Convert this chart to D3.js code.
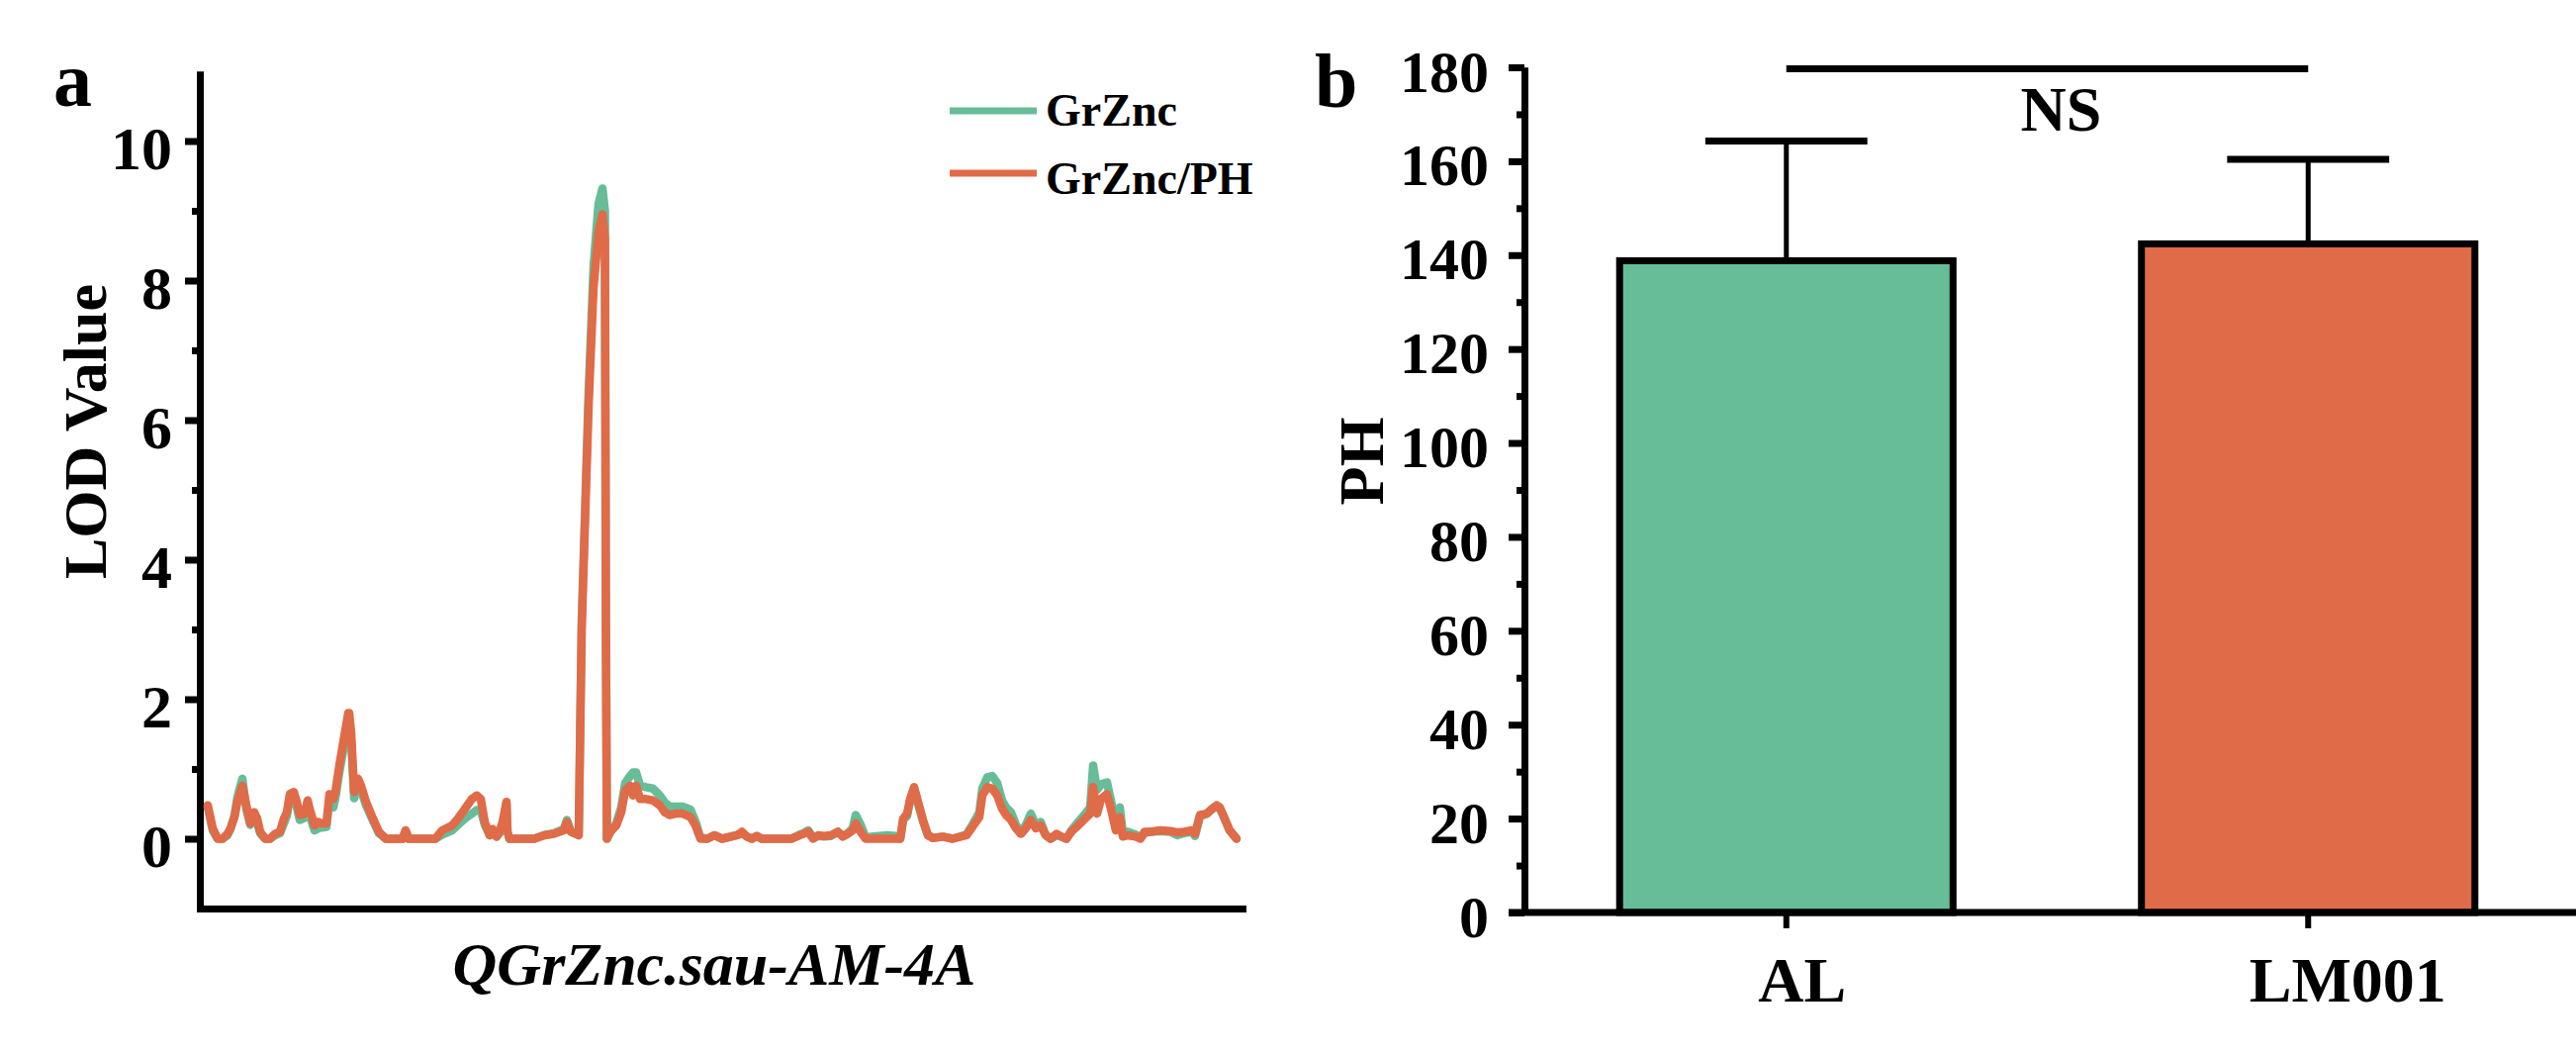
<!DOCTYPE html>
<html>
<head>
<meta charset="utf-8">
<script src="https://cdn.jsdelivr.net/npm/d3@7"></script>
<style>
    body { margin: 0; background: #fff; }
    svg text { font-family: "Times New Roman", "Liberation Serif", serif; font-weight: bold; fill: #000; }
</style>
</head>
<body>
<svg id="fig"></svg>
<script>
// ---- panel a : LOD profile along the QTL interval (position in cM) ----
const qtlPos = [0.8,1.3,1.8,2.3,2.8,3.1,3.5,3.8,4.3,4.7,5.1,5.5,5.8,6.1,6.6,7.1,7.6,8.1,8.5,8.8,
    9.1,9.5,9.8,10.1,10.6,10.9,11.1,11.4,11.6,12.0,12.3,12.8,13.1,13.5,13.7,14.1,14.6,15.0,15.1,15.3,
    15.6,16.0,16.3,16.8,17.5,18.1,18.8,20.5,20.8,21.1,23.8,24.5,25.5,26.1,26.8,27.5,28.0,28.4,28.8,29.3,
    29.6,30.0,30.3,30.6,31.0,31.1,31.3,33.8,34.8,35.8,36.8,37.1,37.5,38.3,38.6,39.3,39.8,40.3,40.7,40.95,
    41.05,41.15,41.5,42.1,42.6,43.0,43.5,43.8,44.1,44.5,45.1,45.8,46.5,47.0,47.5,48.1,48.8,49.6,50.1,50.6,
    51.3,52.0,52.8,54.3,54.8,55.3,55.8,56.3,56.8,59.8,60.5,61.0,61.5,62.0,62.5,63.1,63.8,64.5,65.0,65.5,
    66.0,66.3,66.8,67.3,69.5,70.3,70.8,71.1,71.5,71.8,72.2,72.6,73.1,73.6,74.1,75.1,76.1,77.5,78.1,78.8,
    79.1,79.6,80.1,80.6,81.1,81.5,82.0,82.5,83.0,83.5,84.0,84.5,85.0,85.5,86.0,86.6,87.1,87.6,88.1,88.8,
    89.5,90.0,90.3,90.7,91.1,91.7,92.1,92.6,93.0,93.3,93.8,94.6,95.1,95.5,96.1,97.1,98.1,98.8,99.5,100.3,
    100.6,101.1,101.8,102.3,102.8,103.1,103.6,104.1,104.8];

const lodGrZnc = [0.45,0.12,0,0,0.05,0.14,0.33,0.6,0.86,0.42,0.2,0.33,0.22,0.08,0,0,0.05,0.08,0.22,0.33,
    0.6,0.62,0.45,0.27,0.3,0.5,0.36,0.2,0.12,0.15,0.16,0.17,0.55,0.45,0.58,0.95,1.35,1.68,1.7,1.4,
    0.58,0.78,0.7,0.48,0.26,0.08,0,0,0.12,0,0,0.06,0.12,0.2,0.29,0.36,0.41,0.41,0.2,0.05,
    0.12,0.03,0.08,0.2,0.5,0.1,0,0,0.05,0.08,0.14,0.27,0.1,0.05,3.1,6.4,8.2,9.1,9.32,9.0,
    3.1,0,0.1,0.22,0.45,0.8,0.9,0.95,0.95,0.76,0.74,0.72,0.62,0.52,0.46,0.46,0.46,0.42,0.25,0.02,
    0,0.05,0,0.05,0.08,0.03,0,0.04,0,0,0.05,0.08,0.12,0.02,0.04,0.03,0.04,0.1,0.04,0.08,
    0.15,0.34,0.2,0.02,0.05,0.04,0,0.27,0.33,0.55,0.72,0.5,0.25,0.05,0.01,0.03,0,0.06,0.2,0.38,
    0.72,0.88,0.9,0.8,0.55,0.45,0.38,0.2,0.08,0.2,0.36,0.2,0.24,0.06,0,0.05,0.03,0,0.12,0.24,
    0.36,0.45,1.05,0.7,0.78,0.81,0.55,0.2,0.45,0.08,0.1,0.06,0.02,0.08,0.1,0.11,0.1,0.05,0.08,0.1,
    0.04,0.32,0.36,0.42,0.46,0.44,0.28,0.12,0];

const lodGrZncPH = [0.48,0.15,0,0,0.07,0.15,0.31,0.53,0.76,0.48,0.22,0.38,0.29,0.1,0,0,0.07,0.1,0.29,0.38,
    0.64,0.67,0.53,0.34,0.36,0.55,0.43,0.29,0.19,0.24,0.22,0.22,0.64,0.57,0.67,1.05,1.47,1.8,1.8,1.52,
    0.67,0.86,0.76,0.53,0.29,0.1,0,0,0.12,0,0,0.12,0.19,0.29,0.43,0.57,0.62,0.57,0.24,0.05,
    0.14,0.03,0.1,0.24,0.53,0.1,0,0,0.05,0.07,0.12,0.24,0.1,0.05,3.0,6.2,7.9,8.7,8.95,8.6,
    3.0,0,0.1,0.19,0.38,0.69,0.76,0.62,0.76,0.57,0.57,0.55,0.48,0.38,0.34,0.36,0.36,0.31,0.19,0,
    0,0.05,0,0.05,0.1,0.03,0,0.04,0,0,0.04,0.07,0.1,0,0.05,0.04,0.05,0.1,0.03,0.07,
    0.12,0.22,0.1,0,0,0,0,0.29,0.36,0.57,0.74,0.53,0.27,0.05,0.01,0.03,0,0.05,0.17,0.31,
    0.62,0.74,0.72,0.62,0.43,0.34,0.27,0.15,0.07,0.15,0.27,0.15,0.19,0.05,0,0.07,0.03,0,0.1,0.19,
    0.29,0.36,0.74,0.36,0.57,0.64,0.43,0.12,0.31,0.03,0.05,0.03,0,0.1,0.1,0.12,0.11,0.09,0.1,0.12,
    0.07,0.34,0.36,0.43,0.48,0.45,0.29,0.12,0];

const seriesNames = ['GrZnc', 'GrZnc/PH'];
const lodTicks = [0, 2, 4, 6, 8, 10];
const lodMinorTicks = [1, 3, 5, 7, 9];

// ---- panel b : plant height of the two parents ----
const phGroups = ['AL', 'LM001'];
const phMean = [138.8, 142.4];
const phSD = [25.5, 18.0];
const phTicks = [0, 20, 40, 60, 80, 100, 120, 140, 160, 180];
const phMinorTicks = [10, 30, 50, 70, 90, 110, 130, 150, 170];

const GREEN = '#66bd98';
const ORANGE = '#e06b48';

const svg = d3.select('#fig')
    .attr('width', 2604)
    .attr('height', 1065);

function styleAxis(g, fontSize, dy) {
    g.select('.domain').attr('stroke', '#000').attr('stroke-width', 7);
    g.selectAll('.tick line').attr('stroke', '#000').attr('stroke-width', 7);
    g.selectAll('.tick text')
        .style('font-size', fontSize + 'px')
        .attr('dy', dy);
}

// ================= panel a =================
const pa = {left: 202, right: 1256, top: 72, bottom: 918};

const xa = d3.scaleLinear()
    .domain([0, 105.4])
    .range([pa.left, pa.right]);

const ya = d3.scaleLinear()
    .domain([-1, 11])
    .range([pa.bottom, pa.top]);

const ga = svg.append('g');

ga.append('g')
    .attr('transform', `translate(${pa.left}, 0)`)
    .call(d3.axisLeft(ya).tickValues(lodMinorTicks).tickSize(8).tickSizeOuter(0).tickFormat(''))
    .call(g => styleAxis(g, 10, 0));

ga.append('g')
    .attr('transform', `translate(${pa.left}, 0)`)
    .call(d3.axisLeft(ya).tickValues(lodTicks).tickSize(15).tickPadding(13).tickSizeOuter(0))
    .call(g => styleAxis(g, 62, '0.45em'));

ga.append('g')
    .attr('transform', `translate(0, ${pa.bottom})`)
    .call(d3.axisBottom(xa).tickValues([]).tickSizeOuter(0))
    .call(g => styleAxis(g, 10, 0))
    .select('.domain').attr('stroke-linecap', 'square');

const lodLine = d3.line()
    .x((d, i) => xa(qtlPos[i]))
    .y(d => ya(d));

ga.selectAll('path.lod')
    .data([lodGrZnc, lodGrZncPH])
    .enter()
    .append('path')
    .attr('class', 'lod')
    .attr('d', lodLine)
    .attr('fill', 'none')
    .attr('stroke', (d, i) => i === 0 ? GREEN : ORANGE)
    .attr('stroke-width', 8.5)
    .attr('stroke-linejoin', 'round')
    .attr('stroke-linecap', 'round');

// legend
const legend = ga.append('g').attr('transform', 'translate(960, 112)');
seriesNames.forEach((name, i) => {
    legend.append('line')
        .attr('x1', 0).attr('x2', 88)
        .attr('y1', i * 63).attr('y2', i * 63)
        .attr('stroke', i === 0 ? GREEN : ORANGE)
        .attr('stroke-width', 7);
    legend.append('text')
        .attr('x', 97)
        .attr('y', i * 63 + 15 + i * 6)
        .style('font-size', '46px')
        .text(name);
});

ga.append('text')
    .attr('transform', `translate(107, 436) rotate(-90)`)
    .attr('text-anchor', 'middle')
    .style('font-size', '62px')
    .text('LOD Value');

ga.append('text')
    .attr('x', (pa.left + pa.right) / 2 - 7)
    .attr('y', 995)
    .attr('text-anchor', 'middle')
    .style('font-size', '62px')
    .style('font-style', 'italic')
    .text('QGrZnc.sau-AM-4A');

ga.append('text')
    .attr('x', 54).attr('y', 107)
    .style('font-size', '78px')
    .text('a');

// ================= panel b =================
const pb = {left: 1541, right: 2597, top: 68, bottom: 922};

const xb = d3.scaleBand()
    .domain(phGroups)
    .range([pb.left + 1, pb.right])
    .paddingInner(0.361)
    .paddingOuter(0.1805);

const yb = d3.scaleLinear()
    .domain([0, 180])
    .range([pb.bottom, pb.top]);

const gb = svg.append('g');
const bw = xb.bandwidth();

gb.selectAll('rect.bar')
    .data(phGroups)
    .enter()
    .append('rect')
    .attr('class', 'bar')
    .attr('x', d => xb(d))
    .attr('y', (d, i) => yb(phMean[i]))
    .attr('width', bw)
    .attr('height', (d, i) => yb(0) - yb(phMean[i]))
    .attr('fill', (d, i) => i === 0 ? GREEN : ORANGE)
    .attr('stroke', '#000')
    .attr('stroke-width', 7);

// error bars (upper whisker only)
gb.selectAll('line.err')
    .data(phGroups)
    .enter()
    .append('line')
    .attr('class', 'err')
    .attr('x1', d => xb(d) + bw / 2)
    .attr('x2', d => xb(d) + bw / 2)
    .attr('y1', (d, i) => yb(phMean[i]) - 3)
    .attr('y2', (d, i) => yb(phMean[i] + phSD[i]))
    .attr('stroke', '#000')
    .attr('stroke-width', 5);

gb.selectAll('line.cap')
    .data(phGroups)
    .enter()
    .append('line')
    .attr('class', 'cap')
    .attr('x1', d => xb(d) + bw / 2 - bw * 0.243)
    .attr('x2', d => xb(d) + bw / 2 + bw * 0.243)
    .attr('y1', (d, i) => yb(phMean[i] + phSD[i]))
    .attr('y2', (d, i) => yb(phMean[i] + phSD[i]))
    .attr('stroke', '#000')
    .attr('stroke-width', 7);

gb.append('g')
    .attr('transform', `translate(${pb.left}, 0)`)
    .call(d3.axisLeft(yb).tickValues(phMinorTicks).tickSize(8).tickSizeOuter(0).tickFormat(''))
    .call(g => styleAxis(g, 10, 0));

gb.append('g')
    .attr('transform', `translate(${pb.left}, 0)`)
    .call(d3.axisLeft(yb).tickValues(phTicks).tickSize(16).tickPadding(20).tickSizeOuter(0))
    .call(g => styleAxis(g, 60, '0.4em'));

// x axis
const labelShift = [16, 40];
gb.append('g')
    .attr('transform', `translate(0, ${pb.bottom})`)
    .call(d3.axisBottom(xb).tickSize(16).tickPadding(29).tickSizeOuter(0))
    .call(g => {
        g.select('.domain').remove();
        g.selectAll('.tick line').attr('stroke', '#000').attr('stroke-width', 6);
        g.selectAll('.tick text')
            .style('font-size', '64px')
            .attr('dx', (d, i) => labelShift[i]);
    });

gb.append('line')
    .attr('x1', pb.left - 16).attr('x2', 2604)
    .attr('y1', pb.bottom).attr('y2', pb.bottom)
    .attr('stroke', '#000')
    .attr('stroke-width', 7);

// significance bracket
const c1 = xb(phGroups[0]) + bw / 2;
const c2 = xb(phGroups[1]) + bw / 2;
gb.append('line')
    .attr('x1', c1).attr('x2', c2)
    .attr('y1', yb(180) + 1.5).attr('y2', yb(180) + 1.5)
    .attr('stroke', '#000')
    .attr('stroke-width', 7);

gb.append('text')
    .attr('x', (c1 + c2) / 2 + 14)
    .attr('y', 132)
    .attr('text-anchor', 'middle')
    .style('font-size', '64px')
    .text('NS');

gb.append('text')
    .attr('transform', `translate(1398, 466) rotate(-90)`)
    .attr('text-anchor', 'middle')
    .style('font-size', '64px')
    .text('PH');

gb.append('text')
    .attr('x', 1329).attr('y', 108)
    .style('font-size', '78px')
    .text('b');
</script>
</body>
</html>
